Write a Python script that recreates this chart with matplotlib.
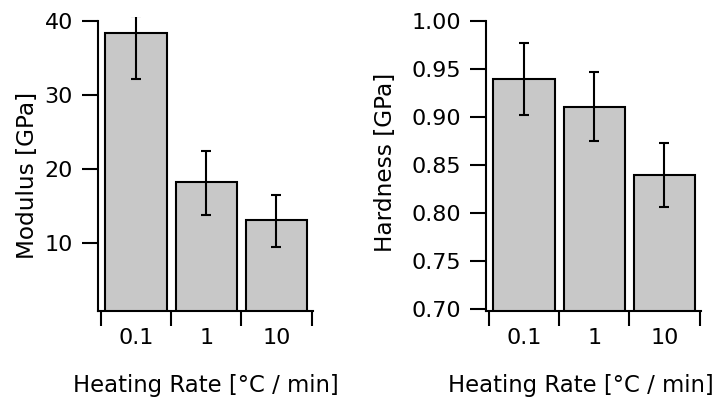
import matplotlib
matplotlib.use("Agg")
import matplotlib.pyplot as plt
import numpy as np

rates = ["0.1", "1", "10"]

modulus = [38.4, 18.2, 13.1]
modulus_lo = [32.2, 13.8, 9.5]
modulus_hi = [40.7, 22.4, 16.5]

hardness = [0.940, 0.910, 0.840]
hardness_lo = [0.902, 0.875, 0.806]
hardness_hi = [0.977, 0.947, 0.873]

modulus_ticks = [10, 20, 30, 40]
hardness_ticks = [0.70, 0.75, 0.80, 0.85, 0.90, 0.95, 1.00]

plt.rcParams['font.family'] = ['DejaVu Sans']
plt.rcParams['font.size'] = 16

fig = plt.figure(figsize=(7.18, 4.03), dpi=100)
# left axes goes a bit above the 40 tick so the first error bar pokes out (its cap clipped)
ax1 = fig.add_axes([98/718, 1 - 311/403, 215/718, 294.4/403])
ax2 = fig.add_axes([486/718, 1 - 311/403, 215/718, 290/403])


def draw_panel(ax, vals, lo, hi, ylim, yticks, ylabel, fmt, ylabelpad, ylabel_y, xlabel_x):
  x = np.arange(len(rates))
  vals = np.array(vals)
  err = [vals - np.array(lo), np.array(hi) - vals]
  ax.bar(x, vals, width=0.87, color='#c8c8c8', edgecolor='black', linewidth=1.5, zorder=2)
  ax.errorbar(x, vals, yerr=err, fmt='none', ecolor='black', elinewidth=1.5,
              capsize=3.5, capthick=1.5, zorder=3)
  ax.set_xlim(-0.54, 2.52)
  ax.set_ylim(*ylim)
  ax.set_yticks(yticks)
  ax.set_yticklabels([fmt.format(t) for t in yticks])
  # ticks at the group boundaries, labels at the centers
  ax.set_xticks(x)
  ax.set_xticklabels(rates)
  ax.set_xticks(np.arange(-0.5, len(rates)), minor=True)
  ax.tick_params(axis='x', which='major', length=0, pad=12)
  ax.tick_params(axis='x', which='minor', length=11, width=1.5, direction='out')
  ax.tick_params(axis='y', length=11.5, width=1.5, direction='out', pad=6.5)
  for side in ['top', 'right']:
    ax.spines[side].set_visible(False)
  for side in ['left', 'bottom']:
    ax.spines[side].set_linewidth(1.5)
  ax.spines['left'].set_bounds(ylim[0], yticks[-1])
  ax.set_ylabel(ylabel, labelpad=ylabelpad, fontsize=16.7)
  ax.yaxis.label.set_y(ylabel_y)
  ax.set_xlabel("Heating Rate [°C / min]", labelpad=19, fontsize=16.4)
  ax.xaxis.label.set_x(xlabel_x)


draw_panel(ax1, modulus, modulus_lo, modulus_hi, (0.8, 40.6), modulus_ticks,
           "Modulus [GPa]", "{:.0f}", 4, 0.46, 0.5)
draw_panel(ax2, hardness, hardness_lo, hardness_hi, (0.698, 1.0), hardness_ticks,
           "Hardness [GPa]", "{:.2f}", 10.5, 0.512, 0.44)

fig.savefig("out.png", dpi=100)
